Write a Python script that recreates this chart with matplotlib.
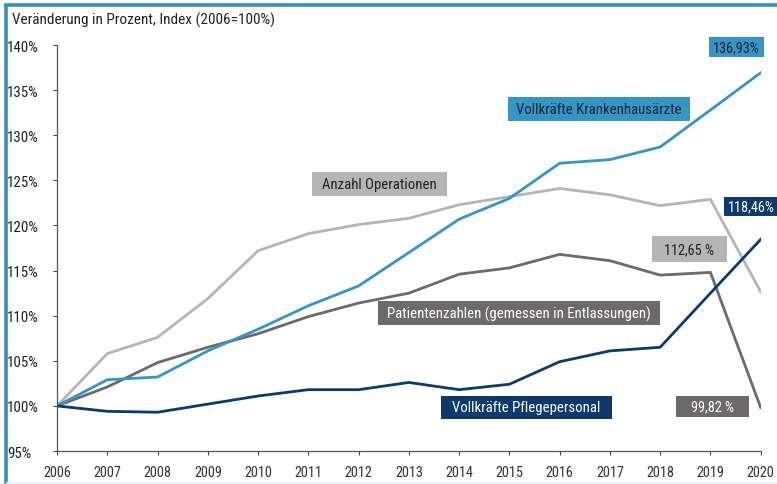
import matplotlib
matplotlib.use("Agg")
import matplotlib.pyplot as plt
from matplotlib.lines import Line2D
from matplotlib.patches import Rectangle
from matplotlib import font_manager

# pick a narrow sans family if one is installed
_fonts = {(f.name, f.stretch) for f in font_manager.fontManager.ttflist}
_names = {n for n, _ in _fonts}
font_stretch = 'normal'
if 'Roboto Condensed' in _names:
    main_font = 'Roboto Condensed'
elif 'Liberation Sans Narrow' in _names:
    main_font = 'Liberation Sans Narrow'
elif any(n == 'DejaVu Sans' and s in ('condensed', 'semi-condensed', 500, 400, 300)
         for n, s in _fonts):
    main_font = 'DejaVu Sans'
    font_stretch = 'condensed'
else:
    main_font = 'Roboto'
plt.rcParams['font.family'] = [main_font, 'DejaVu Sans']
plt.rcParams['font.stretch'] = font_stretch

years = list(range(2006, 2021))
aerzte = [100, 102.9, 103.2, 106.1, 108.5, 111.1, 113.3, 117.0, 120.7, 123.0,
          126.9, 127.3, 128.7, 132.8, 136.93]
operationen = [100, 105.8, 107.6, 111.9, 117.2, 119.1, 120.1, 120.8, 122.3, 123.2,
               124.1, 123.4, 122.2, 122.9, 112.65]
patienten = [100, 102.1, 104.8, 106.5, 108.0, 109.9, 111.4, 112.5, 114.6, 115.3,
             116.8, 116.1, 114.5, 114.8, 99.82]
pflege = [100, 99.4, 99.3, 100.2, 101.1, 101.8, 101.8, 102.6, 101.8, 102.4,
          104.9, 106.1, 106.5, 112.5, 118.46]
y_ticks = [95, 100, 105, 110, 115, 120, 125, 130, 135, 140]

c_aerzte = '#3595c4'
c_ops = '#b5b5b5'
c_pat = '#6c6a6a'
c_pflege = '#0d3a6c'

fig = plt.figure(figsize=(7.77, 4.85), dpi=100)
ax = fig.add_axes([0.0734, 0.068, 0.9056, 0.837])

lw = 2.0
ax.plot(years, operationen, color=c_ops, lw=lw, solid_joinstyle='round')
ax.plot(years, patienten, color=c_pat, lw=lw, solid_joinstyle='round')
ax.plot(years, aerzte, color=c_aerzte, lw=lw, solid_joinstyle='round')
ax.plot(years, pflege, color=c_pflege, lw=lw, solid_joinstyle='round')

ax.set_xlim(2006, 2020)
ax.set_ylim(95, 140)
ax.set_xticks(years)
ax.set_xticklabels([str(y) for y in years], fontsize=10.3, color='#333333')
ax.set_yticks(y_ticks)
ax.set_yticklabels([f'{t}%' for t in y_ticks], fontsize=10.8, color='#222222')
for lab in ax.get_yticklabels():
    lab.set_horizontalalignment('left')
ax.tick_params(axis='y', direction='out', length=3, width=0.8, color='#444444', pad=33)
ax.tick_params(axis='x', direction='out', length=3, width=0.8, color='#444444', pad=7)
for s in ['top', 'right']:
    ax.spines[s].set_visible(False)
for s in ['left', 'bottom']:
    ax.spines[s].set_color('#555555')
    ax.spines[s].set_linewidth(0.9)


def tag(x0, x1, yc, h, text, bg, fg, size=10.6):
    ax.add_patch(Rectangle((x0, yc - h / 2), x1 - x0, h, fc=bg, ec='none',
                           clip_on=False, zorder=5))
    ax.text((x0 + x1) / 2, yc, text, fontsize=size, color=fg, ha='center',
            va='center', clip_on=False, zorder=6)


def pct(v, sep=''):
    return f'{v:.2f}{sep}%'.replace('.', ',')


tag(2014.97, 2018.59, 132.9, 2.6, 'Vollkräfte Krankenhausärzte', c_aerzte, '#10243a')
tag(2011.07, 2013.76, 124.6, 2.6, 'Anzahl Operationen', c_ops, '#222222')
tag(2012.38, 2018.0, 110.3, 2.6, 'Patientenzahlen (gemessen in Entlassungen)', c_pat, 'white')
tag(2013.64, 2017.04, 99.85, 2.6, 'Vollkräfte Pflegepersonal', c_pflege, 'white')
tag(2018.97, 2020.06, 139.8, 2.3, pct(aerzte[-1]), c_aerzte, '#10243a', 10.3)
tag(2019.27, 2020.35, 122.1, 2.1, pct(pflege[-1]), c_pflege, 'white', 10.3)
tag(2017.83, 2019.32, 117.4, 2.8, pct(operationen[-1], ' '), c_ops, '#222222', 10.3)
tag(2018.31, 2019.76, 99.95, 2.3, pct(patienten[-1], ' '), c_pat, 'white', 10.3)

fig.text(12 / 777, 1 - 20 / 485, 'Veränderung in Prozent, Index (2006=100%)',
         fontsize=11, color='#222222', va='center', ha='left')

# frame lines
border = '#3a8fbf'
fig.add_artist(Line2D([5.5 / 777, 5.5 / 777], [0, 1 - 5 / 485], color=border, lw=2.6,
                      transform=fig.transFigure, solid_capstyle='butt'))
fig.add_artist(Line2D([4 / 777, 1], [1 - 5.5 / 485, 1 - 5.5 / 485], color=border, lw=2.6,
                      transform=fig.transFigure, solid_capstyle='butt'))
fig.add_artist(Line2D([7 / 777, 1], [1.5 / 485, 1.5 / 485], color='#dff4fb', lw=2,
                      transform=fig.transFigure))

fig.savefig('out.png', dpi=100)
